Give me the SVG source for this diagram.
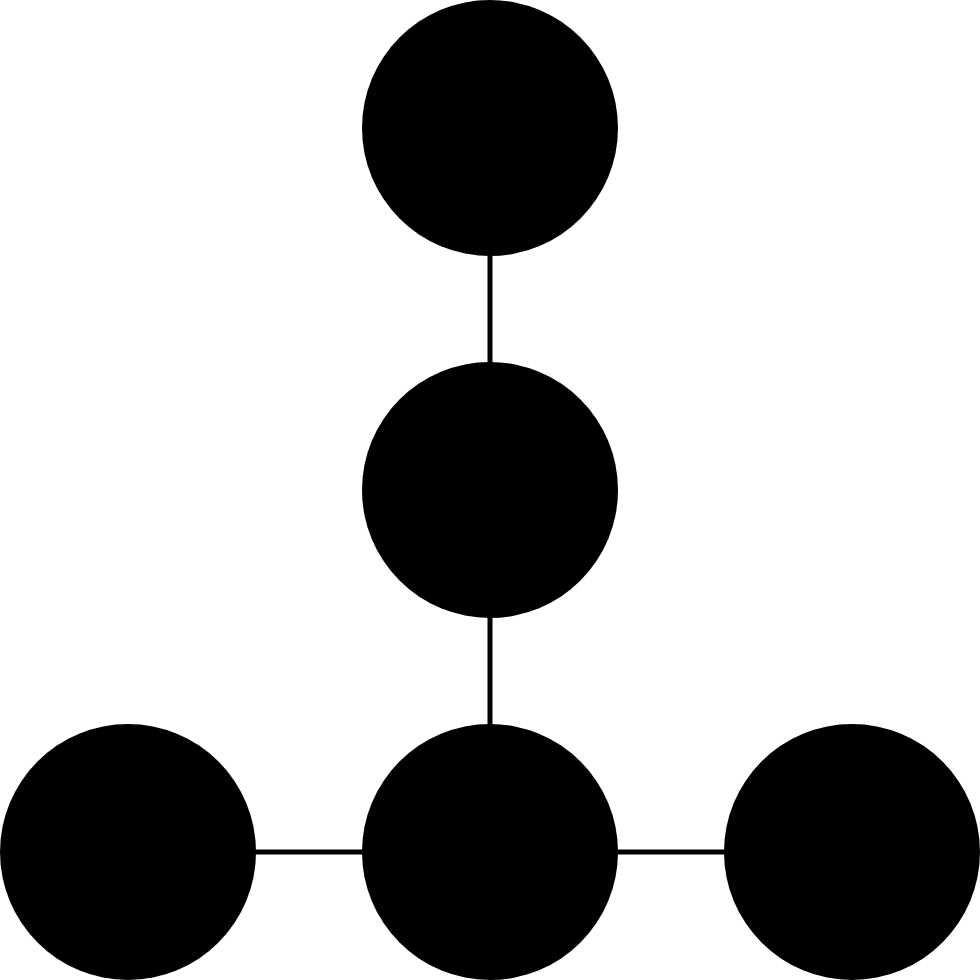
<svg xmlns="http://www.w3.org/2000/svg" width="980" height="980" viewBox="0 0 980 980">
<style>
.node{fill:#000}
.edge{stroke:#000;stroke-width:5;fill:none}
</style>
<rect width="980" height="980" fill="#fff"/>
<g id="connectors">
<line class="edge" x1="490" y1="250" x2="490" y2="368"/>
<line class="edge" x1="490" y1="612" x2="490" y2="730"/>
<line class="edge" x1="250" y1="852" x2="368" y2="852"/>
<line class="edge" x1="612" y1="852" x2="730" y2="852"/>
</g>
<g id="top"><circle class="node" cx="490" cy="128" r="128"/></g>
<g id="middle"><circle class="node" cx="490" cy="490" r="128"/></g>
<g id="bottom"><circle class="node" cx="490" cy="852" r="128"/></g>
<g id="left"><circle class="node" cx="128" cy="852" r="128"/></g>
<g id="right"><circle class="node" cx="852" cy="852" r="128"/></g>
</svg>
